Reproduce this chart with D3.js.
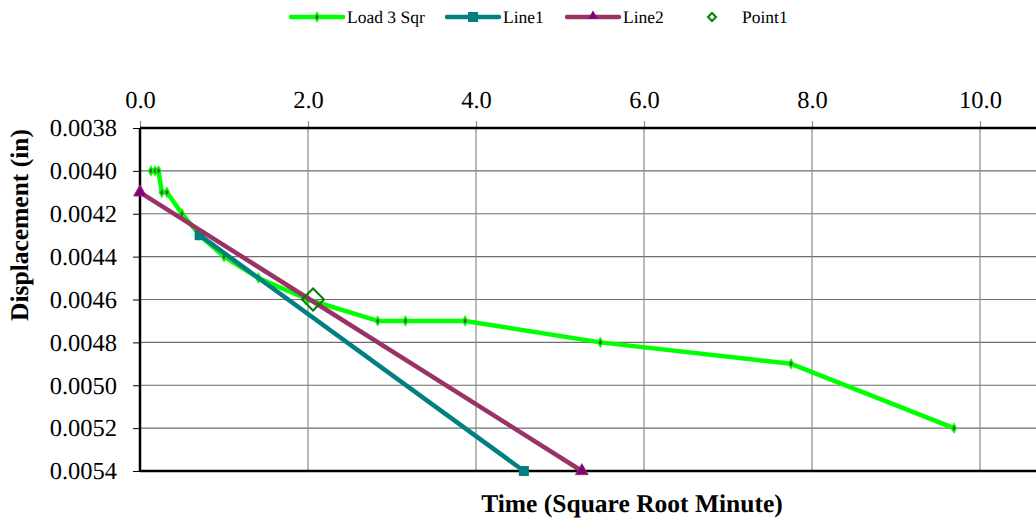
<!DOCTYPE html>
<html><head><meta charset="utf-8">
<script src="https://cdn.jsdelivr.net/npm/d3@7"></script>
<style>body{margin:0;background:#fff}svg{display:block}text{text-rendering:geometricPrecision}</style>
</head><body><svg id="c" width="1036" height="522" font-family="Liberation Serif"></svg>
<script>
const loadX = [0.13, 0.18, 0.22, 0.26, 0.32, 0.5, 0.71, 1.0, 1.41, 2.0, 2.83, 3.16, 3.87, 5.48, 7.75, 9.69];
const loadY = [0.0040, 0.0040, 0.0040, 0.0041, 0.0041, 0.0042, 0.0043, 0.0044, 0.0045, 0.0046, 0.0047, 0.0047, 0.0047, 0.0048, 0.0049, 0.0052];
const line1X = [0.71, 4.57];
const line1Y = [0.0043, 0.0054];
const line2X = [0.0, 5.26];
const line2Y = [0.0041, 0.0054];
const point1X = [2.06];
const point1Y = [0.0046];
const xTicks = [0, 2, 4, 6, 8, 10];
const yTicks = [0.0038, 0.0040, 0.0042, 0.0044, 0.0046, 0.0048, 0.0050, 0.0052, 0.0054];

const FONT = "Liberation Serif";
const svg = d3.select("#c");
const L = 140, T = 128, B = 471;
const x = d3.scaleLinear().domain([0, 12]).range([L, L + 84 * 12]);
const y = d3.scaleLinear().domain([0.0038, 0.0054]).range([T, B]);
const R = x(12);

// grid
svg.append("g").selectAll("line").data(yTicks.slice(1, -1)).join("line")
  .attr("x1", L).attr("x2", R).attr("y1", d => y(d)).attr("y2", d => y(d))
  .attr("stroke", "#6e6e6e").attr("stroke-width", 1.2);
svg.append("g").selectAll("line").data(xTicks.slice(1)).join("line")
  .attr("x1", d => x(d)).attr("x2", d => x(d)).attr("y1", T).attr("y2", B)
  .attr("stroke", "#8a8a8a").attr("stroke-width", 1.2);

// axes
const yAxis = d3.axisLeft(y).tickValues(yTicks).tickFormat(d3.format(".4f")).tickSize(7).tickPadding(16);
const gy = svg.append("g").attr("transform", `translate(${L},0)`).call(yAxis);
const xAxis = d3.axisTop(x).tickValues(xTicks).tickFormat(d3.format(".1f")).tickSize(7).tickPadding(13);
const gx = svg.append("g").attr("transform", `translate(0,${T})`).call(xAxis);
[gy, gx].forEach(g => {
  g.attr("font-family", FONT).attr("font-size", 24.5);
  g.select(".domain").remove();
  g.selectAll(".tick line").attr("stroke", "#000").attr("stroke-width", 1);
  g.selectAll(".tick text").attr("fill", "#000");
});
gx.selectAll(".tick line").attr("stroke", "#8a8a8a").attr("stroke-width", 1.2);
// frame
svg.append("line").attr("x1", L).attr("x2", R).attr("y1", T).attr("y2", T).attr("stroke", "#000").attr("stroke-width", 2.5);
svg.append("line").attr("x1", L).attr("x2", R).attr("y1", B).attr("y2", B).attr("stroke", "#000").attr("stroke-width", 2.5);
svg.append("line").attr("x1", L).attr("x2", L).attr("y1", T).attr("y2", B).attr("stroke", "#000").attr("stroke-width", 2.5);

const line = d3.line().x(d => x(d[0])).y(d => y(d[1]));
const green = "#00ff00", teal = "#008080", maroon = "#993366", dgreen = "#008000";

// Load 3 Sqr
const loadPts = loadX.map((v, i) => [v, loadY[i]]);
svg.append("path").attr("d", line(loadPts)).attr("fill", "none").attr("stroke", green).attr("stroke-width", 4.5).attr("stroke-linejoin", "round");
const diamond = d3.symbol().type(d3.symbolDiamond);
svg.append("g").selectAll("path").data(loadPts).join("path")
  .attr("transform", d => `translate(${x(d[0])},${y(d[1])})`)
  .attr("d", diamond.size(22)()).attr("fill", "#5a4a4a").attr("stroke", green).attr("stroke-width", 1.5);

// Line1
const l1 = line1X.map((v, i) => [v, line1Y[i]]);
svg.append("path").attr("d", line(l1)).attr("fill", "none").attr("stroke", teal).attr("stroke-width", 4.5);
svg.append("g").selectAll("rect").data(l1).join("rect")
  .attr("x", d => x(d[0]) - 5).attr("y", d => y(d[1]) - 5).attr("width", 10).attr("height", 10).attr("fill", teal);

// Line2
const l2 = line2X.map((v, i) => [v, line2Y[i]]);
svg.append("path").attr("d", line(l2)).attr("fill", "none").attr("stroke", maroon).attr("stroke-width", 4.5);
svg.append("g").selectAll("path").data(l2).join("path")
  .attr("transform", d => `translate(${x(d[0])},${y(d[1])})`)
  .attr("d", d3.symbol().type(d3.symbolTriangle).size(70)()).attr("fill", "#800080").attr("stroke", maroon).attr("stroke-width", 1);

// Point1
const p1 = point1X.map((v, i) => [v, point1Y[i]]);
svg.append("g").selectAll("path").data(p1).join("path")
  .attr("transform", d => `translate(${x(d[0])},${y(d[1])})`)
  .attr("d", "M0,-11L11,0L0,11L-11,0Z").attr("fill", "none").attr("stroke", dgreen).attr("stroke-width", 2);

// titles
svg.append("text").attr("x", 632).attr("y", 512).attr("text-anchor", "middle").attr("font-family", FONT)
  .attr("font-size", 25.5).attr("font-weight", "bold").text("Time (Square Root Minute)");
svg.append("text").attr("transform", "translate(28,225) rotate(-90)").attr("text-anchor", "middle").attr("font-family", FONT)
  .attr("font-size", 25.5).attr("font-weight", "bold").text("Displacement (in)");

// legend
const lg = svg.append("g").attr("font-family", FONT).attr("font-size", 17.5);
function legLine(x0, col, label, mk) {
  lg.append("line").attr("x1", x0).attr("x2", x0 + 52).attr("y1", 17).attr("y2", 17).attr("stroke", col).attr("stroke-width", 4.5).attr("stroke-linecap", "round");
  mk(x0 + 26);
  lg.append("text").attr("x", x0 + 56).attr("y", 22.5).text(label);
}
legLine(291, green, "Load 3 Sqr", cx => lg.append("path").attr("transform", `translate(${cx},17)`).attr("d", diamond.size(22)()).attr("fill", "#5a4a4a").attr("stroke", green).attr("stroke-width", 1.5));
legLine(447, teal, "Line1", cx => lg.append("rect").attr("x", cx - 5).attr("y", 12).attr("width", 10).attr("height", 10).attr("fill", teal));
legLine(567, maroon, "Line2", cx => lg.append("path").attr("transform", `translate(${cx},16)`).attr("d", d3.symbol().type(d3.symbolTriangle).size(40)()).attr("fill", "#800080"));
lg.append("path").attr("transform", "translate(712,17)").attr("d", "M0,-4L4,0L0,4L-4,0Z").attr("fill", "none").attr("stroke", dgreen).attr("stroke-width", 2);
lg.append("text").attr("x", 742).attr("y", 22.5).text("Point1");
</script></body></html>
